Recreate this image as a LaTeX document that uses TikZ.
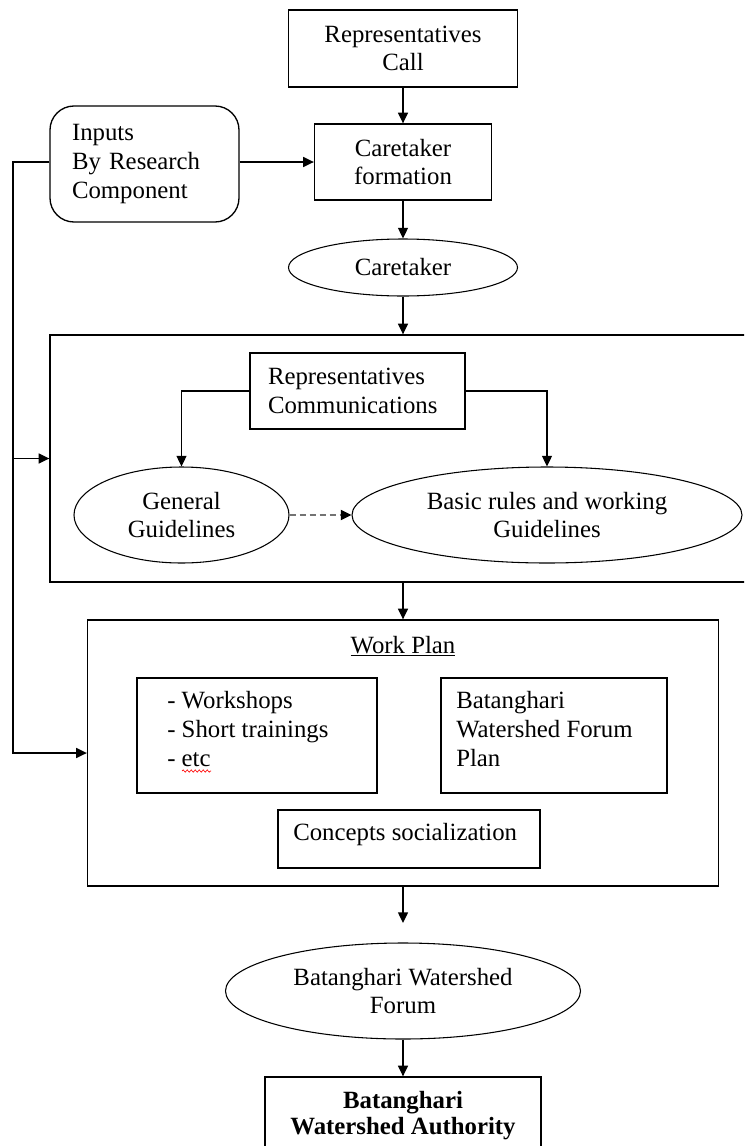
\documentclass[tikz,border=0pt]{standalone}
\usepackage{fontspec}
\setmainfont{Liberation Serif}
\usetikzlibrary{arrows.meta,shapes.geometric,decorations.pathmorphing}
\begin{document}
\begin{tikzpicture}[x=0.75pt,y=-0.75pt,
  every node/.style={font=\fontsize{18.6}{21.4}\selectfont},
  box/.style={draw,line width=1pt,rectangle,inner sep=0pt,align=center},
  oval/.style={draw,line width=0.8pt,ellipse,inner sep=0pt,align=center},
  arr/.style={line width=1pt,-{Triangle[length=8pt,width=7.5pt]}},
  dasharr/.style={line width=1.4pt,dash pattern=on 4.5pt off 3pt,draw=black!55,-{Triangle[length=8pt,width=7.5pt,color=black]}},
  lbl/.style={inner sep=0pt,anchor=base west},
  boldlbl/.style={inner sep=0pt,anchor=base,font=\fontsize{18.6}{21.4}\selectfont\bfseries}]
\useasboundingbox (0,0) rectangle (744,1146);
\clip (0,0) rectangle (744,1146);
\fill[white] (0,0) rectangle (744,1146);

% top chain
\node[box,minimum width=171.75pt,minimum height=57.75pt] (rc) at (403,48.5) {Representatives\\Call};
\node[box,minimum width=132.75pt,minimum height=57pt] (cf) at (403,162) {Caretaker\\formation};
\node[box,rounded corners=18pt,text width=108.75pt,inner xsep=16.5pt,minimum height=87pt,align=left] (inp) at (144.5,164) {Inputs\\By Research\\Component};
\node[oval,minimum width=171.75pt,minimum height=42.75pt] (ct) at (403,267.5) {Caretaker};

% first big frame
\node[box,minimum width=562.5pt,minimum height=185.25pt] (big) at (425,458.5) {};
\node[box,text width=134.25pt,inner xsep=13.5pt,minimum height=57pt,align=left] (comm) at (357.5,391) {Representatives\\Communications};
\node[oval,minimum width=161.25pt,minimum height=72pt] (gen) at (181.5,515) {General\\Guidelines};
\node[oval,minimum width=292.5pt,minimum height=72pt] (basic) at (547,515) {Basic rules and working\\Guidelines};

% work plan frame
\node[box,minimum width=473.25pt,minimum height=199.5pt] (wp) at (403,753) {};
\node[inner sep=0pt,anchor=base] (wpt) at (403,653) {\underline{Work Plan}};
\node[box,minimum width=180pt,minimum height=86.25pt] (ws) at (257,735.5) {};
\node[lbl] (ws1) at (167,708) {- Workshops};
\node[lbl] (ws2) at (167,737) {- Short trainings};
\node[lbl] (ws3) at (167,766) {- etc};
\draw[red,line width=0.5pt,decorate,decoration={snake,amplitude=0.8pt,segment length=3pt}] (182,771) -- (211,771);
\node[box,minimum width=169.5pt,minimum height=86.25pt] (bp) at (554,735.5) {};
\node[lbl] (bp1) at (456,708) {Batanghari};
\node[lbl] (bp2) at (456,737) {Watershed Forum};
\node[lbl] (bp3) at (456,766) {Plan};
\node[box,minimum width=196.5pt,minimum height=43.5pt] (cs) at (409,839) {};
\node[lbl] (cst) at (293,840) {Concepts socialization};

% bottom
\node[oval,minimum width=266.25pt,minimum height=72pt] (bwf) at (403,991) {Batanghari Watershed\\Forum};
\node[box,minimum width=207pt,minimum height=77.25pt] (auth) at (403,1128.5) {};
\node[boldlbl] (au1) at (403,1108) {Batanghari};
\node[boldlbl] (au2) at (403,1134) {Watershed Authority};

% connectors
\draw[arr] (rc.south) -- (cf.north);
\draw[arr] (inp.east |- cf.west) -- (cf.west);
\draw[arr] (cf.south) -- (ct.north);
\draw[arr] (ct.south) -- (ct.south |- big.north);
\draw[arr] (comm.west) -| (gen.north);
\draw[arr] (comm.east) -| (basic.north);
\draw[dasharr] (gen.east) -- (basic.west);
\draw[arr] (ct.south |- big.south) -- (wp.north);
\coordinate (lx) at (13,162);
\draw[arr] (inp.west |- lx) -- (lx) |- (wp.west);
\draw[arr] (lx |- big.west) -- (big.west);
\coordinate (gapend) at (403,923);
\draw[arr] (wp.south) -- (gapend);
\draw[arr] (bwf.south) -- (auth.north);
\end{tikzpicture}
\end{document}
